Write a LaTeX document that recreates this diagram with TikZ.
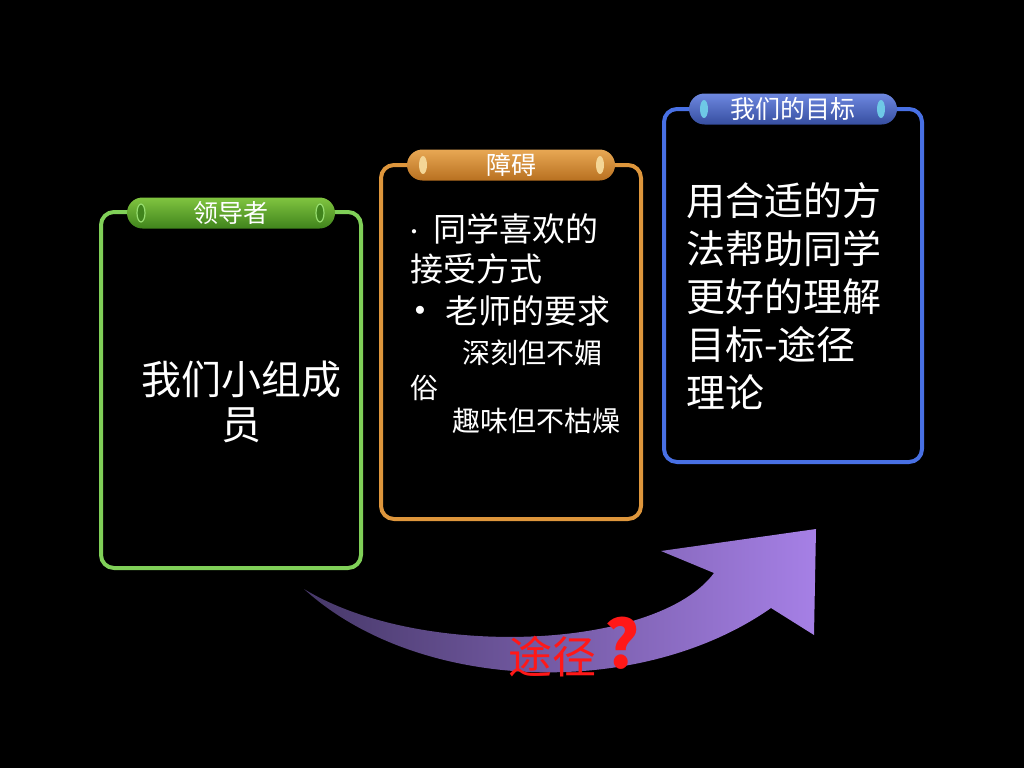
\documentclass[tikz,border=0pt]{standalone}
\usepackage{fontspec}
\newfontfamily\cjk{Noto Sans CJK SC}
\usetikzlibrary{shapes.geometric}

\definecolor{leadGreen}{RGB}{128,208,88}
\definecolor{tabGreenT}{RGB}{128,196,64}
\definecolor{tabGreenB}{RGB}{64,132,28}
\definecolor{dotGreen}{RGB}{150,220,110}
\definecolor{barOrange}{RGB}{222,150,60}
\definecolor{tabOrangeT}{RGB}{232,168,84}
\definecolor{tabOrangeB}{RGB}{184,112,32}
\definecolor{dotOrange}{RGB}{244,214,150}
\definecolor{goalBlue}{RGB}{72,112,228}
\definecolor{tabBlueT}{RGB}{110,136,224}
\definecolor{tabBlueB}{RGB}{54,78,160}
\definecolor{dotBlue}{RGB}{110,200,230}
\definecolor{arrowDark}{RGB}{70,56,104}
\definecolor{arrowLight}{RGB}{166,128,230}
\definecolor{wayRed}{RGB}{255,24,24}

\tikzset{
  panel/.style={line width=4pt, rounded corners=13pt},
  tabbar/.style={rounded corners=15.5pt, minimum width=208pt, minimum height=31pt,
    inner sep=0pt, text=white, font=\cjk\fontsize{25}{28}\selectfont},
  tabdot/.style={ellipse, minimum width=8pt, minimum height=18pt, inner sep=0pt},
  bodytext/.style={inner sep=0pt, text=white, anchor=west},
}

\begin{document}
\begin{tikzpicture}[x=1pt, y=-1pt, line join=round]

  %% background
  \fill[black] (0,0) rectangle (1024,768);

  %% ==== three panels ====
  \draw[panel, leadGreen] (101,212) rectangle (361,568);
  \draw[panel, barOrange] (381,165) rectangle (641,519);
  \draw[panel, goalBlue]  (664,109) rectangle (922,462);

  %% ==== tabs on top of the panels ====
  \node[tabbar, top color=tabGreenT, bottom color=tabGreenB] (tabLead) at (231,213) {领导者};
  \node[tabdot, fill=tabGreenB, draw=dotGreen, line width=1.2pt] (dotLeadL) at (141,213) {};
  \node[tabdot, fill=tabGreenB, draw=dotGreen, line width=1.2pt] (dotLeadR) at (320,213) {};

  \node[tabbar, top color=tabOrangeT, bottom color=tabOrangeB] (tabBlock) at (511,165) {障碍};
  \node[tabdot, fill=dotOrange] (dotBlockL) at (423,165) {};
  \node[tabdot, fill=dotOrange] (dotBlockR) at (600,165) {};

  \node[tabbar, top color=tabBlueT, bottom color=tabBlueB] (tabGoal) at (793,109) {我们的目标};
  \node[tabdot, fill=dotBlue] (dotGoalL) at (704,109) {};
  \node[tabdot, fill=dotBlue] (dotGoalR) at (881,109) {};

  %% ==== panel texts ====
  \node[inner sep=0pt, text=white, align=center, font=\cjk\fontsize{40}{45}\selectfont]
    (leadText) at (241,402) {我们小组成\\员};

  \node[inner sep=0pt, text=white] (dotA) at (414,232) {\fontsize{11}{11}\selectfont$\bullet$};
  \node[bodytext, font=\cjk\fontsize{33}{40}\selectfont] (blockA) at (433,229) {同学喜欢的};
  \node[bodytext, font=\cjk\fontsize{33}{40}\selectfont] (blockB) at (410,269) {接受方式};
  \node[inner sep=0pt, text=white] (dotC) at (420,311) {\fontsize{22}{22}\selectfont$\bullet$};
  \node[bodytext, font=\cjk\fontsize{33}{40}\selectfont] (blockC) at (445,311) {老师的要求};
  \node[bodytext, font=\cjk\fontsize{28}{34}\selectfont] (blockD) at (462,353) {深刻但不媚};
  \node[bodytext, font=\cjk\fontsize{28}{34}\selectfont] (blockE) at (410,388) {俗};
  \node[bodytext, font=\cjk\fontsize{28}{34}\selectfont] (blockF) at (452,421) {趣味但不枯燥};

  \node[inner sep=0pt, text=white, anchor=north west, align=left,
        font=\cjk\fontsize{39}{48}\selectfont]
    (goalText) at (686,182) {用合适的方\\法帮助同学\\更好的理解\\目标-途径\\理论};

  %% ==== curved arrow ====
  \coordinate (arrowTail) at (304,589);
  \coordinate (arrowTip)  at (816,529);
  \shade[left color=arrowDark, right color=arrowLight]
    (arrowTail) .. controls (420,660) and (657,650) .. (714,573)
    -- (661,551) -- (arrowTip) -- (814,635) -- (771,608)
    .. controls (640,700) and (418,693) .. (arrowTail) -- cycle;

  \node[inner sep=0pt, text=wayRed, font=\cjk\fontsize{44}{50}\selectfont] (wayText) at (552,657) {途径};
  \node[inner sep=0pt, text=wayRed, font=\cjk\bfseries\fontsize{66}{70}\selectfont] (wayMark) at (622,643) {?};

\end{tikzpicture}
\end{document}
